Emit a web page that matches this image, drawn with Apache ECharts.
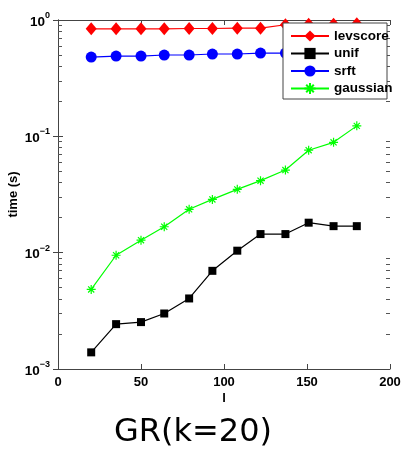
<!DOCTYPE html>
<html>
<head>
<meta charset="utf-8">
<script src="https://cdn.jsdelivr.net/npm/echarts@6/dist/echarts.min.js"></script>
<style>
  html, body { margin: 0; padding: 0; background: #fff; }
  #chart { width: 402px; height: 450px; }
</style>
</head>
<body>
<div id="chart"></div>
<script>
// Problem size l for each run
const lValues = [20, 35, 50, 64, 79, 93, 108, 122, 137, 151, 166, 180];

// Running time (s) for each sampling scheme
const levscore = [0.84, 0.84, 0.84, 0.84, 0.845, 0.845, 0.85, 0.85, 0.91, 0.92, 0.92, 0.93];
const unif     = [0.00139, 0.00243, 0.00253, 0.0030, 0.00404, 0.00698, 0.0104, 0.01445, 0.01445, 0.0181, 0.0169, 0.0169];
const srft     = [0.48, 0.49, 0.49, 0.50, 0.50, 0.51, 0.51, 0.52, 0.52, 0.52, 0.53, 0.53];
const gaussian = [0.00483, 0.0095, 0.0128, 0.0167, 0.0236, 0.0287, 0.035, 0.0416, 0.0513, 0.0760, 0.0888, 0.123];

const seriesNames = ['levscore', 'unif', 'srft', 'gaussian'];
const xTicks = [0, 50, 100, 150, 200];

// Minor ticks of the log axis: 2..9 within each decade
const minorTicks = [];
[0.001, 0.01, 0.1].forEach(function (d) {
  for (let m = 2; m <= 9; m++) minorTicks.push(+(m * d).toPrecision(3));
});

const asterisk = 'path://M0,5 L10,5 M5,0 L5,10 M1.6,1.6 L8.4,8.4 M8.4,1.6 L1.6,8.4';
const axisColor = '#444';
const labelFont = 'Liberation Sans, Arial, sans-serif';

function pair(xs, ys) { return xs.map(function (x, i) { return [x, ys[i]]; }); }

const chart = echarts.init(document.getElementById('chart'), null, { renderer: 'canvas' });

const logAxisBase = {
  type: 'log',
  logBase: 10,
  min: 0.001,
  max: 1,
  splitLine: { show: false },
  minorTick: { show: false },
  axisLine: { show: true, lineStyle: { color: axisColor, width: 1 } },
  axisTick: { show: true, inside: true, length: 5, lineStyle: { color: axisColor } }
};

// extra axes that only carry the short minor ticks
const minorAxisBase = Object.assign({}, logAxisBase, {
  axisLine: { show: false },
  axisLabel: { show: false },
  axisTick: { show: true, inside: true, length: 4, customValues: minorTicks, lineStyle: { color: '#555' } }
});

chart.setOption({
  animation: false,
  backgroundColor: '#fff',
  title: {
    text: 'GR(k=20)',
    left: 188,
    top: 412,
    textAlign: 'center',
    textStyle: { fontFamily: 'DejaVu Sans', fontWeight: 'normal', fontSize: 32, color: '#000' }
  },
  grid: { left: 58, right: 12, top: 20, bottom: 81, containLabel: false, outerBoundsMode: 'none' },
  graphic: [{
    // legend frame
    type: 'rect',
    shape: { x: 283, y: 23, width: 104, height: 76 },
    style: { fill: '#fff', stroke: axisColor, lineWidth: 1 },
    z: 10,
    silent: true
  }],
  legend: {
    data: seriesNames,
    orient: 'vertical',
    left: 290,
    top: 29,
    padding: 0,
    itemGap: 3.5,
    itemWidth: 38,
    itemHeight: 14,
    z: 20,
    textStyle: { fontFamily: labelFont, fontWeight: 'bold', fontSize: 13.5, color: '#000' }
  },
  xAxis: [{
    type: 'value',
    min: 0,
    max: 200,
    interval: 50,
    name: 'l',
    nameLocation: 'middle',
    nameGap: 23,
    nameMoveOverlap: false,
    nameTextStyle: { fontFamily: labelFont, fontWeight: 'bold', fontSize: 13, color: '#000' },
    splitLine: { show: false },
    axisLine: { show: true, onZero: false, lineStyle: { color: axisColor } },
    axisTick: { show: true, inside: true, length: 5, lineStyle: { color: axisColor } },
    axisLabel: {
      margin: 7,
      fontFamily: labelFont, fontWeight: 'bold', fontSize: 13, color: '#000',
      customValues: xTicks
    }
  }, {
    type: 'value',
    position: 'top',
    min: 0,
    max: 200,
    interval: 50,
    splitLine: { show: false },
    axisLine: { show: true, onZero: false, lineStyle: { color: axisColor } },
    axisTick: { show: true, inside: true, length: 5, lineStyle: { color: axisColor } },
    axisLabel: { show: false }
  }],
  yAxis: [Object.assign({}, logAxisBase, {
    position: 'left',
    name: 'time (s)',
    nameLocation: 'middle',
    nameGap: 38,
    nameMoveOverlap: false,
    nameTextStyle: { fontFamily: labelFont, fontWeight: 'bold', fontSize: 13, color: '#000' },
    axisLabel: {
      margin: 8,
      formatter: function (v) {
        const e = Math.round(Math.log10(v));
        return '{b|10}{s|' + (e < 0 ? '\u2212' + (-e) : e) + '}';
      },
      rich: {
        b: { fontFamily: labelFont, fontWeight: 'bold', fontSize: 13.5, color: '#000', lineHeight: 18, verticalAlign: 'bottom' },
        s: { fontFamily: labelFont, fontWeight: 'bold', fontSize: 9, color: '#000', lineHeight: 18, verticalAlign: 'top' }
      }
    }
  }), Object.assign({}, logAxisBase, {
    position: 'right',
    axisLabel: { show: false }
  }), Object.assign({}, minorAxisBase, {
    position: 'left',
    offset: 0
  }), Object.assign({}, minorAxisBase, {
    position: 'right',
    offset: 0
  })],
  series: [{
    name: 'levscore',
    type: 'line',
    data: pair(lValues, levscore),
    symbol: 'diamond',
    symbolSize: [11, 13],
    lineStyle: { color: '#ff0000', width: 1.2 },
    itemStyle: { color: '#ff0000' },
    z: 3
  }, {
    name: 'unif',
    type: 'line',
    data: pair(lValues, unif),
    symbol: 'rect',
    symbolSize: 8,
    lineStyle: { color: '#000000', width: 1.2 },
    itemStyle: { color: '#000000' },
    z: 3
  }, {
    name: 'srft',
    type: 'line',
    data: pair(lValues, srft),
    symbol: 'circle',
    symbolSize: 11,
    lineStyle: { color: '#0000ff', width: 1.2 },
    itemStyle: { color: '#0000ff' },
    z: 3
  }, {
    name: 'gaussian',
    type: 'line',
    data: pair(lValues, gaussian),
    symbol: asterisk,
    symbolSize: 9,
    lineStyle: { color: '#00ff00', width: 1.2 },
    itemStyle: { color: '#00ff00', borderColor: '#00ff00', borderWidth: 1.2 },
    z: 3
  }]
});
</script>
</body>
</html>
